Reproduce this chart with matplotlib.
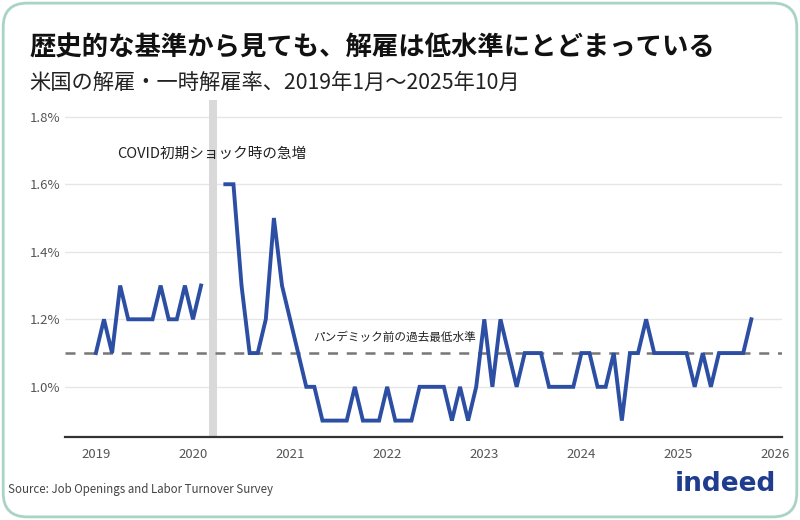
import numpy as np
import matplotlib
matplotlib.use('Agg')
import matplotlib.pyplot as plt
from matplotlib.patches import FancyBboxPatch

plt.rcParams['font.family'] = ['Noto Sans CJK JP', 'DejaVu Sans']

# Monthly layoff & discharge rate (%), Jan 2019 - Oct 2025 (Mar/Apr 2020 left out)
rate_2019 = [1.1, 1.2, 1.1, 1.3, 1.2, 1.2, 1.2, 1.2, 1.3, 1.2, 1.2, 1.3]
rate_2020 = [1.2, 1.3, np.nan, np.nan, 1.6, 1.6, 1.3, 1.1, 1.1, 1.2, 1.5, 1.3]
rate_2021 = [1.2, 1.1, 1.0, 1.0, 0.9, 0.9, 0.9, 0.9, 1.0, 0.9, 0.9, 0.9]
rate_2022 = [1.0, 0.9, 0.9, 0.9, 1.0, 1.0, 1.0, 1.0, 0.9, 1.0, 0.9, 1.0]
rate_2023 = [1.2, 1.0, 1.2, 1.1, 1.0, 1.1, 1.1, 1.1, 1.0, 1.0, 1.0, 1.0]
rate_2024 = [1.1, 1.1, 1.0, 1.0, 1.1, 0.9, 1.1, 1.1, 1.2, 1.1, 1.1, 1.1]
rate_2025 = [1.1, 1.1, 1.0, 1.1, 1.0, 1.1, 1.1, 1.1, 1.1, 1.2]

pre_pandemic_low = 1.1
covid_months = (2020 + 2 / 12, 2020 + 3 / 12)  # Mar - Apr 2020
year_ticks = [2019, 2020, 2021, 2022, 2023, 2024, 2025, 2026]
pct_ticks = [1.0, 1.2, 1.4, 1.6, 1.8]

rates = np.array(rate_2019 + rate_2020 + rate_2021 + rate_2022 + rate_2023 + rate_2024 + rate_2025)
months = 2019 + np.arange(len(rates)) / 12

fig = plt.figure(figsize=(8, 5.2), dpi=100)

# rounded card border, kept behind the axes
card = FancyBboxPatch((0.004, 0.006), 0.992, 0.988, boxstyle='round,pad=0,rounding_size=0.03',
                      transform=fig.transFigure, facecolor='white', edgecolor='#a9d3c4',
                      linewidth=2, mutation_aspect=800 / 520, zorder=-10)
fig.patches.append(card)

ax = fig.add_axes([0.081, 0.16, 0.897, 0.648])
ax.set_zorder(2)
ax.set_facecolor('none')

ax.axvspan(covid_months[0], covid_months[1], color='#d9d9d9', zorder=1, linewidth=0)
ax.axhline(pre_pandemic_low, color='#777777', linestyle=(0, (4, 3.5)), linewidth=1.8, zorder=2)
ax.plot(months, rates, color='#2c4fa3', linewidth=2.8, zorder=3, solid_joinstyle='miter')

ax.set_xlim(2018.68, 2026.07)
ax.set_ylim(0.852, 1.85)
ax.set_xticks(year_ticks)
ax.set_xticklabels([str(y) for y in year_ticks])
ax.set_yticks(pct_ticks)
ax.set_yticklabels([f'{v:.1f}%' for v in pct_ticks])
ax.tick_params(length=0, labelsize=9.5, colors='#555555')
ax.tick_params(axis='x', pad=8)
ax.grid(axis='y', color='#e6e6e6', linewidth=1)
ax.set_axisbelow(True)
for side in ['top', 'right', 'left']:
    ax.spines[side].set_visible(False)
ax.spines['bottom'].set_color('#333333')
ax.spines['bottom'].set_linewidth(1.6)

ax.text(2019.22, 1.69, 'COVID初期ショック時の急増', fontsize=10.5, color='#222222', va='center')
ax.text(2021.24, 1.145, 'パンデミック前の過去最低水準', fontsize=8.4, color='#222222', va='center')

fig.text(0.037, 0.907, '歴史的な基準から見ても、解雇は低水準にとどまっている',
         fontsize=19, fontweight='bold', color='#111111', va='center')
fig.text(0.037, 0.84, '米国の解雇・一時解雇率、2019年1月〜2025年10月',
         fontsize=15.3, color='#222222', va='center')
fig.text(0.01, 0.058, 'Source: Job Openings and Labor Turnover Survey',
         fontsize=8.3, color='#444444', va='center')
fig.text(0.97, 0.07, 'indeed', fontsize=19, fontweight='bold', color='#1f3c8f',
         ha='right', va='center', family='DejaVu Sans')

plt.savefig('out.png', dpi=100)
plt.close()
